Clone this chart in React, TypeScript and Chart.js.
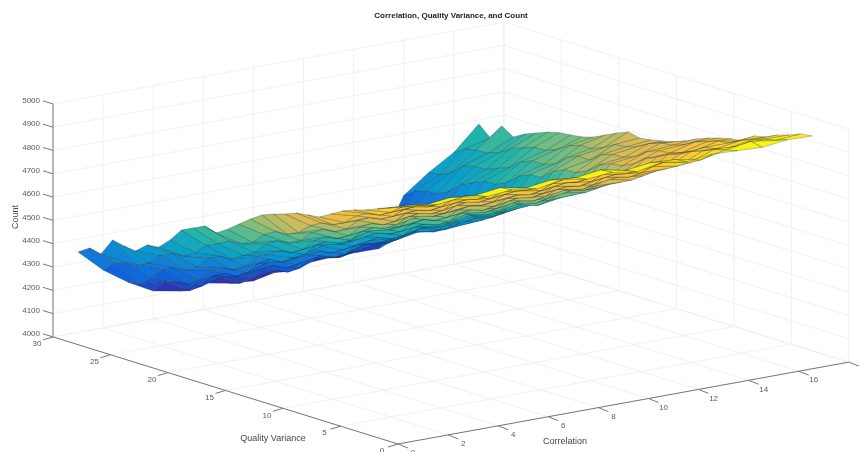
import React, { useEffect, useRef } from "react";
import { Chart, registerables } from "chart.js";

Chart.register(...registerables);

const chartTitle = "Correlation, Quality Variance, and Count";
const correlationLabel = "Correlation";
const varianceLabel = "Quality Variance";
const countLabel = "Count";

const correlationTicks = [0, 2, 4, 6, 8, 10, 12, 14, 16, 18];
const varianceTicks = [0, 5, 10, 15, 20, 25, 30];
const countTicks = [4000, 4100, 4200, 4300, 4400, 4500, 4600, 4700, 4800, 4900, 5000];

const correlationValues = [1, 2, 3, 4, 5, 6, 7, 8, 9, 10, 11, 12, 13, 14, 15, 16, 17];
const varianceValues = [30, 29, 28, 27, 26, 25, 24, 23, 22, 21, 20, 19, 18, 17, 16, 15, 14, 13, 12, 11, 10, 9, 8, 7, 6, 5, 4, 3, 2, 1];

const countAtV30 = [4345, 4248, 4176, 4119, 4099, 4114, 4094, 4084, 4107, 4118, 4124, 4126, 4125, 4333, 4413, 4479, 4582];
const countAtV29 = [4377, 4295, 4185, 4175, 4117, 4163, 4109, 4132, 4122, 4166, 4142, 4170, 4170, 4369, 4419, 4510, 4537];
const countAtV28 = [4367, 4312, 4225, 4190, 4150, 4182, 4148, 4160, 4158, 4190, 4176, 4195, 4214, 4385, 4445, 4520, 4604];
const countAtV27 = [4442, 4316, 4280, 4195, 4208, 4187, 4206, 4168, 4213, 4195, 4230, 4214, 4245, 4388, 4487, 4522, 4572];
const countAtV26 = [4432, 4340, 4300, 4228, 4238, 4222, 4232, 4200, 4240, 4228, 4258, 4250, 4275, 4415, 4500, 4540, 4600];
const countAtV25 = [4426, 4388, 4306, 4286, 4240, 4278, 4236, 4256, 4246, 4279, 4266, 4294, 4305, 4458, 4503, 4573, 4620];
const countAtV24 = [4467, 4412, 4335, 4312, 4270, 4305, 4268, 4285, 4280, 4310, 4295, 4315, 4335, 4480, 4522, 4590, 4639];
const countAtV23 = [4473, 4416, 4388, 4317, 4326, 4313, 4324, 4294, 4333, 4320, 4342, 4324, 4346, 4502, 4541, 4608, 4651];
const countAtV22 = [4519, 4445, 4412, 4350, 4358, 4345, 4355, 4322, 4362, 4345, 4370, 4350, 4358, 4505, 4580, 4610, 4657];
const countAtV21 = [4577, 4492, 4414, 4404, 4362, 4398, 4362, 4378, 4370, 4395, 4377, 4396, 4385, 4528, 4600, 4630, 4664];
const countAtV20 = [4601, 4515, 4445, 4430, 4395, 4428, 4392, 4410, 4402, 4425, 4400, 4425, 4415, 4570, 4600, 4660, 4679];
const countAtV19 = [4625, 4542, 4473, 4461, 4426, 4458, 4423, 4442, 4431, 4452, 4434, 4453, 4448, 4592, 4618, 4678, 4703];
const countAtV18 = [4610, 4545, 4525, 4468, 4480, 4465, 4478, 4450, 4480, 4460, 4485, 4465, 4480, 4595, 4660, 4680, 4727];
const countAtV17 = [4642, 4566, 4554, 4497, 4514, 4494, 4511, 4478, 4507, 4490, 4510, 4500, 4508, 4636, 4682, 4698, 4747];
const countAtV16 = [4679, 4615, 4560, 4550, 4520, 4548, 4520, 4530, 4515, 4540, 4520, 4548, 4536, 4660, 4680, 4728, 4736];
const countAtV15 = [4716, 4644, 4586, 4582, 4548, 4580, 4546, 4560, 4545, 4566, 4552, 4568, 4564, 4662, 4718, 4733, 4743];
const countAtV14 = [4749, 4648, 4635, 4590, 4600, 4588, 4595, 4570, 4595, 4575, 4600, 4575, 4592, 4685, 4735, 4750, 4754];
const countAtV13 = [4768, 4670, 4664, 4618, 4634, 4616, 4628, 4600, 4625, 4607, 4626, 4612, 4617, 4725, 4738, 4778, 4765];
const countAtV12 = [4784, 4715, 4670, 4670, 4645, 4668, 4640, 4650, 4635, 4655, 4635, 4660, 4642, 4745, 4758, 4795, 4785];
const countAtV11 = [4803, 4742, 4697, 4700, 4675, 4698, 4668, 4682, 4667, 4683, 4670, 4686, 4675, 4752, 4793, 4801, 4809];
const countAtV10 = [4810, 4750, 4748, 4710, 4725, 4708, 4715, 4695, 4715, 4695, 4720, 4700, 4707, 4775, 4812, 4818, 4828];
const countAtV9 = [4817, 4774, 4776, 4740, 4756, 4736, 4748, 4727, 4746, 4729, 4744, 4735, 4732, 4813, 4818, 4846, 4843];
const countAtV8 = [4845, 4818, 4785, 4790, 4768, 4785, 4765, 4775, 4760, 4775, 4755, 4780, 4757, 4835, 4835, 4862, 4855];
const countAtV7 = [4873, 4843, 4812, 4819, 4798, 4816, 4796, 4806, 4793, 4804, 4791, 4805, 4790, 4862, 4856, 4880, 4861];
const countAtV6 = [4893, 4852, 4856, 4832, 4845, 4830, 4842, 4822, 4838, 4820, 4838, 4820, 4824, 4878, 4888, 4888, 4898];
const countAtV5 = [4908, 4879, 4885, 4864, 4874, 4861, 4873, 4855, 4869, 4855, 4867, 4854, 4851, 4905, 4897, 4914, 4909];
const countAtV4 = [4928, 4918, 4898, 4908, 4892, 4904, 4892, 4900, 4888, 4900, 4885, 4895, 4878, 4922, 4915, 4932, 4933];
const countAtV3 = [4948, 4942, 4927, 4939, 4926, 4933, 4922, 4934, 4924, 4929, 4920, 4929, 4907, 4945, 4940, 4950, 4948];
const countAtV2 = [4967, 4955, 4968, 4958, 4972, 4950, 4965, 4955, 4970, 4948, 4962, 4955, 4935, 4958, 4975, 4960, 4968];
const countAtV1 = [4987, 4972, 4985, 4968, 4978, 4962, 4982, 4965, 4975, 4958, 4980, 4962, 4975, 4970, 4965, 4978, 4975];

const countGrid = [
  countAtV30, countAtV29, countAtV28, countAtV27, countAtV26, countAtV25, countAtV24, countAtV23, countAtV22, countAtV21,
  countAtV20, countAtV19, countAtV18, countAtV17, countAtV16, countAtV15, countAtV14, countAtV13, countAtV12, countAtV11,
  countAtV10, countAtV9, countAtV8, countAtV7, countAtV6, countAtV5, countAtV4, countAtV3, countAtV2, countAtV1,
];

// view(-37.5, 30) as pixels per data unit
const project = (x: number, y: number, z: number) => ({
  x: 398 + 25.05 * x - 11.5 * y,
  y: 444 - 4.55 * x - 3.57 * y - 0.233 * (z - 4000),
});
const depth = (x: number, y: number, z: number) => 0.0293 * x + 0.0229 * y - 0.0005 * (z - 4000);

const parulaStops: [number, number, number, number][] = [
  [0, 53, 42, 165],
  [0.12, 15, 92, 221],
  [0.25, 18, 125, 216],
  [0.37, 7, 156, 207],
  [0.5, 32, 180, 170],
  [0.62, 125, 191, 123],
  [0.72, 217, 186, 86],
  [0.86, 254, 196, 52],
  [1, 249, 251, 14],
];
const parula = (t: number) => {
  for (let i = 1; i < parulaStops.length; i++) {
    if (t <= parulaStops[i][0]) {
      const a = parulaStops[i - 1];
      const b = parulaStops[i];
      const f = (t - a[0]) / (b[0] - a[0]);
      return `rgb(${a[1] + f * (b[1] - a[1])},${a[2] + f * (b[2] - a[2])},${a[3] + f * (b[3] - a[3])})`;
    }
  }
  return "rgb(249,251,14)";
};

const seg = (a: number[], b: number[], color: string, width: number) => ({
  type: "scatter" as const,
  data: [project(a[0], a[1], a[2]), project(b[0], b[1], b[2])],
  showLine: true,
  borderColor: color,
  borderWidth: width,
  pointRadius: 0,
  fill: false,
  clip: false as const,
});

function buildDatasets() {
  const all = countGrid.flat();
  const zMin = Math.min(...all);
  const zMax = Math.max(...all);
  const quads: { d: number; ds: any }[] = [];
  for (let r = 0; r < varianceValues.length - 1; r++) {
    for (let c = 0; c < correlationValues.length - 1; c++) {
      const corners = [
        [correlationValues[c], varianceValues[r], countGrid[r][c]],
        [correlationValues[c + 1], varianceValues[r], countGrid[r][c + 1]],
        [correlationValues[c + 1], varianceValues[r + 1], countGrid[r + 1][c + 1]],
        [correlationValues[c], varianceValues[r + 1], countGrid[r + 1][c]],
      ];
      const mean = (i: number) => corners.reduce((s, p) => s + p[i], 0) / 4;
      const colour = parula(((corners[0][2] + corners[1][2]) / 2 - zMin) / (zMax - zMin));
      const points = [...corners, corners[0]].map((p) => project(p[0], p[1], p[2]));
      quads.push({
        d: depth(mean(0), mean(1), mean(2)),
        ds: {
          type: "scatter",
          data: points,
          showLine: true,
          fill: "shape",
          backgroundColor: colour,
          borderColor: "rgba(25,45,50,0.55)",
          borderWidth: 0.5,
          pointRadius: 0,
          clip: false,
        },
      });
    }
  }
  // dataset 0 is painted last, so nearest first
  quads.sort((a, b) => a.d - b.d);

  const gridColor = "#f0f0f0";
  const axisColor = "#777777";
  const grid: any[] = [];
  const xMax = 18;
  const yMax = 30;
  const zLo = 4000;
  const zHi = 5000;
  correlationTicks.forEach((t) => {
    grid.push(seg([t, 0, zLo], [t, yMax, zLo], gridColor, 1));
    grid.push(seg([t, yMax, zLo], [t, yMax, zHi], gridColor, 1));
  });
  varianceTicks.forEach((t) => {
    grid.push(seg([0, t, zLo], [xMax, t, zLo], gridColor, 1));
    grid.push(seg([xMax, t, zLo], [xMax, t, zHi], gridColor, 1));
  });
  countTicks.forEach((t) => {
    grid.push(seg([0, yMax, t], [xMax, yMax, t], gridColor, 1));
    grid.push(seg([xMax, yMax, t], [xMax, 0, t], gridColor, 1));
  });
  const axes: any[] = [
    seg([0, 0, zLo], [xMax, 0, zLo], axisColor, 1),
    seg([0, 0, zLo], [0, yMax, zLo], axisColor, 1),
    seg([0, yMax, zLo], [0, yMax, zHi], axisColor, 1),
  ];
  correlationTicks.forEach((t) => {
    const a = project(t, 0, zLo);
    axes.push({ ...seg([t, 0, zLo], [t, 0, zLo], axisColor, 1), data: [a, { x: a.x + 10, y: a.y + 4 }] });
  });
  varianceTicks.forEach((t) => {
    const a = project(0, t, zLo);
    axes.push({ ...seg([0, t, zLo], [0, t, zLo], axisColor, 1), data: [a, { x: a.x - 10, y: a.y + 3 }] });
  });
  countTicks.forEach((t) => {
    const a = project(0, yMax, t);
    axes.push({ ...seg([0, yMax, t], [0, yMax, t], axisColor, 1), data: [a, { x: a.x - 10, y: a.y - 3 }] });
  });
  return [...quads.map((q) => q.ds), ...axes, ...grid];
}

const labelsPlugin = {
  id: "axisText",
  afterDraw(chart: any) {
    const { ctx, scales } = chart;
    const px = (p: { x: number; y: number }) => ({
      x: scales.x.getPixelForValue(p.x),
      y: scales.y.getPixelForValue(p.y),
    });
    ctx.save();
    ctx.fillStyle = "#5a5a5a";
    ctx.textBaseline = "middle";
    ctx.font = "8px 'Liberation Sans'";
    ctx.textAlign = "right";
    countTicks.forEach((t) => {
      const a = px(project(0, 30, t));
      ctx.fillText(String(t), a.x - 13, a.y - 3);
    });
    ctx.textAlign = "center";
    varianceTicks.forEach((t) => {
      const a = px(project(0, t, 4000));
      ctx.fillText(String(t), a.x - 16, a.y + 7);
    });
    correlationTicks.forEach((t) => {
      const a = px(project(t, 0, 4000));
      ctx.fillText(String(t), a.x + 15, a.y + 9);
    });
    ctx.font = "9px 'Liberation Sans'";
    ctx.fillStyle = "#444";
    ctx.fillText(varianceLabel, 273, 439);
    ctx.fillText(correlationLabel, 565, 442);
    ctx.translate(16, 217);
    ctx.rotate(-Math.PI / 2);
    ctx.fillText(countLabel, 0, 0);
    ctx.restore();
  },
};

export default function App() {
  const ref = useRef<HTMLCanvasElement>(null);
  useEffect(() => {
    document.body.style.margin = "0";
    const chart = new Chart(ref.current as HTMLCanvasElement, {
      type: "scatter",
      data: { datasets: buildDatasets() },
      plugins: [labelsPlugin],
      options: {
        animation: false,
        responsive: false,
        events: [],
        layout: { padding: { left: 42 } },
        plugins: {
          legend: { display: false },
          tooltip: { enabled: false },
          title: {
            display: true,
            fullSize: false,
            text: chartTitle,
            color: "#222",
            font: { family: "'Liberation Sans'", size: 8, weight: "bold" },
            padding: { top: 11.2, bottom: 3.2 },
          },
        },
        scales: {
          x: { type: "linear", min: 42, max: 860, display: false },
          y: { type: "linear", min: 24, max: 452, reverse: true, display: false },
        },
      },
    } as any);
    return () => chart.destroy();
  }, []);
  return (
    <div style={{ width: 860, height: 452, background: "#fff" }}>
      <canvas ref={ref} width={860} height={452} style={{ display: "block" }} />
    </div>
  );
}
